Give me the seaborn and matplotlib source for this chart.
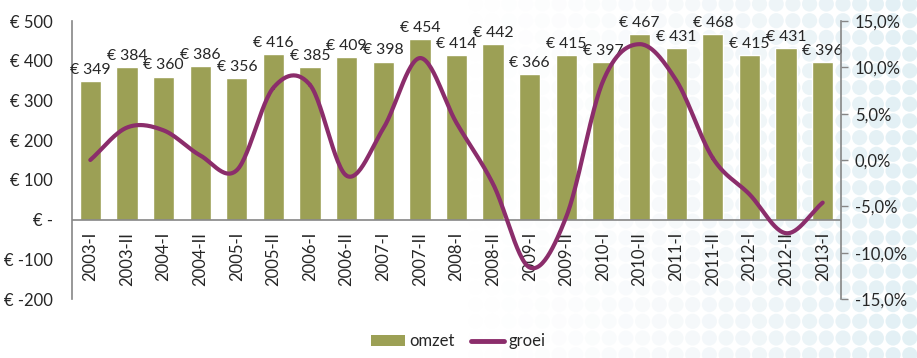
import numpy as np
import matplotlib
matplotlib.use("Agg")
import matplotlib.pyplot as plt
import seaborn as sns
import pandas as pd
from matplotlib.patches import Patch
from matplotlib.lines import Line2D
from matplotlib.ticker import FuncFormatter

periods = ['2003-I', '2003-II', '2004-I', '2004-II', '2005-I', '2005-II', '2006-I',
           '2006-II', '2007-I', '2007-II', '2008-I', '2008-II', '2009-I', '2009-II',
           '2010-I', '2010-II', '2011-I', '2011-II', '2012-I', '2012-II', '2013-I']
omzet = [349, 384, 360, 386, 356, 416, 385, 409, 398, 454, 414, 442, 366, 415,
         397, 467, 431, 468, 415, 431, 396]
groei = [0.0, 3.5, 3.2, 0.5, -1.1, 7.8, 8.1, -1.7, 3.4, 11.0, 4.0, -2.6, -11.6, -6.1,
         8.5, 12.5, 8.6, 0.2, -3.7, -7.9, -4.6]

bar_color = '#9CA055'
line_color = '#8B2D6B'
axis_color = '#868686'

sns.set_style('white')
plt.rcParams['font.family'] = ['Lato', 'DejaVu Sans']
plt.rcParams['font.size'] = 12

W, H = 917, 358
fig = plt.figure(figsize=(W / 100, H / 100), dpi=100)
fig.patch.set_facecolor('white')

# decorative dot pattern in the background (right side)
bg = fig.add_axes([0, 0, 1, 1], zorder=-5)
bg.set_xlim(0, W)
bg.set_ylim(H, 0)
bg.axis('off')
gx, gy = np.meshgrid(np.arange(8, W + 10, 16.7), np.arange(4, H + 10, 16.7))
gx, gy = gx.ravel(), gy.ravel()
t = np.clip((gx - 450) / (W - 450), 0, 1)
cols = np.zeros((len(gx), 4))
cols[:, 0] = 0.80 - 0.06 * t
cols[:, 1] = 0.83 + 0.04 * t
cols[:, 2] = 0.88 + 0.03 * t
cols[:, 3] = 0.45 * t ** 1.5
bg.scatter(gx, gy, s=120, c=cols, edgecolors='none')

ax = fig.add_axes([72 / W, 1 - 299 / H, (841 - 72) / W, (299 - 21) / H])
ax.patch.set_alpha(0)
df = pd.DataFrame({'periode': periods, 'omzet': omzet})
sns.barplot(data=df, x='periode', y='omzet', color=bar_color, saturation=1,
            width=0.58, ax=ax, zorder=2)
ax.bar_label(ax.containers[0], labels=[f'€ {v}' for v in omzet], padding=3,
             fontsize=11.3)
ax.set_ylim(-200, 500)
ax.set_xlim(-0.5, len(periods) - 0.5)
ax.set_yticks(range(-200, 501, 100))
ax.yaxis.set_major_formatter(FuncFormatter(lambda v, p: '€ -' if v == 0 else f'€ {int(v)}'))
ax.tick_params(axis='y', length=0, pad=14, labelsize=12)
ax.set_xticks([])
ax.set_xlabel('')
ax.set_ylabel('')
ax.axhline(0, color=axis_color, lw=1.2, zorder=3)
for s in ['top', 'bottom', 'right']:
    ax.spines[s].set_visible(False)
ax.spines['left'].set_color(axis_color)
ax.spines['left'].set_linewidth(1.2)
for i, p in enumerate(periods):
    ax.annotate(p, (i, 0), xytext=(0, -9), textcoords='offset points',
                rotation=90, ha='center', va='top', fontsize=12)

# smooth growth line (Catmull-Rom through the points, like Excel smoothing)
ax2 = ax.twinx()
xs = np.arange(len(groei), dtype=float)
ys = np.array(groei)
px = np.concatenate([[2 * xs[0] - xs[1]], xs, [2 * xs[-1] - xs[-2]]])
py = np.concatenate([[2 * ys[0] - ys[1]], ys, [2 * ys[-1] - ys[-2]]])
sx, sy = [], []
u = np.linspace(0, 1, 30)
for k in range(1, len(px) - 2):
    for arr, out in ((px, sx), (py, sy)):
        p0, p1, p2, p3 = arr[k - 1], arr[k], arr[k + 1], arr[k + 2]
        out.extend(0.5 * (2 * p1 + (-p0 + p2) * u + (2 * p0 - 5 * p1 + 4 * p2 - p3) * u ** 2
                          + (-p0 + 3 * p1 - 3 * p2 + p3) * u ** 3))
ax2.plot(sx, sy, color=line_color, lw=3, solid_capstyle='round', zorder=4)
ax2.set_ylim(-15, 15)
ax2.set_yticks(range(-15, 16, 5))
ax2.yaxis.set_major_formatter(FuncFormatter(lambda v, p: f'{v:.1f}%'.replace('.', ',')))
ax2.tick_params(axis='y', length=5, width=1, color=axis_color, pad=5, labelsize=12)
for s in ['top', 'bottom', 'left']:
    ax2.spines[s].set_visible(False)
ax2.spines['right'].set_color(axis_color)
ax2.spines['right'].set_linewidth(1.2)

handles = [Patch(facecolor=bar_color, edgecolor='none'),
           Line2D([0], [0], color=line_color, lw=3.5)]
fig.legend(handles, ['omzet', 'groei'], loc='center', bbox_to_anchor=(0.5, 0.047),
           ncol=2, frameon=False, fontsize=12, handlelength=2.0, handleheight=0.6,
           columnspacing=1.0, handletextpad=0.25)

fig.savefig('out.png', dpi=100)
